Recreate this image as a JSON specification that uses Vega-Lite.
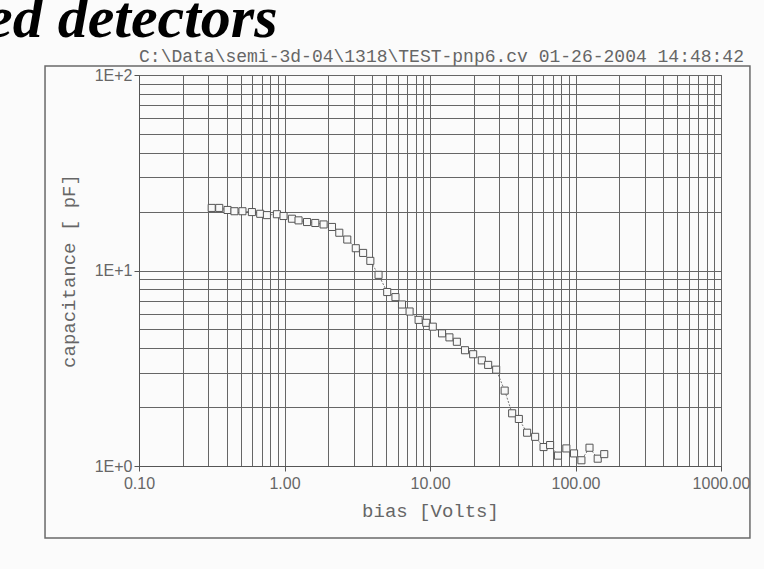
{
  "$schema": "https://vega.github.io/schema/vega-lite/v6.json",
  "width": 582,
  "height": 391,
  "autosize": {"type": "none"},
  "padding": {"left": 139, "top": 75, "right": 43, "bottom": 103},
  "background": "#fbfbfb",
  "title": {
    "text": "ed detectors",
    "anchor": "start",
    "frame": "group",
    "dx": -153,
    "dy": 75,
    "offset": 25,
    "baseline": "alphabetic",
    "font": "Liberation Serif",
    "fontSize": 60,
    "fontStyle": "italic",
    "fontWeight": "bold",
    "color": "#000000"
  },
  "config": {"view": {"stroke": "#555555", "strokeWidth": 1}},
  "data": {
    "values": [
      {"bias": 0.316, "capacitance": 20.9},
      {"bias": 0.356, "capacitance": 20.9},
      {"bias": 0.406, "capacitance": 20.4},
      {"bias": 0.453, "capacitance": 20.1},
      {"bias": 0.514, "capacitance": 20.1},
      {"bias": 0.597, "capacitance": 19.9},
      {"bias": 0.681, "capacitance": 19.5},
      {"bias": 0.757, "capacitance": 19.2},
      {"bias": 0.887, "capacitance": 19.4},
      {"bias": 0.985, "capacitance": 19.0},
      {"bias": 1.125, "capacitance": 18.4},
      {"bias": 1.249, "capacitance": 18.05},
      {"bias": 1.428, "capacitance": 17.7},
      {"bias": 1.628, "capacitance": 17.5},
      {"bias": 1.857, "capacitance": 17.2},
      {"bias": 2.12, "capacitance": 16.7},
      {"bias": 2.38, "capacitance": 15.6},
      {"bias": 2.7, "capacitance": 14.4},
      {"bias": 3.09, "capacitance": 13.0},
      {"bias": 3.47, "capacitance": 12.3},
      {"bias": 3.89, "capacitance": 11.2},
      {"bias": 4.43, "capacitance": 9.5},
      {"bias": 5.08, "capacitance": 7.76},
      {"bias": 5.79, "capacitance": 7.31},
      {"bias": 6.42, "capacitance": 6.7},
      {"bias": 7.24, "capacitance": 6.17},
      {"bias": 8.35, "capacitance": 5.59},
      {"bias": 9.42, "capacitance": 5.4},
      {"bias": 10.45, "capacitance": 5.16},
      {"bias": 12.1, "capacitance": 4.77},
      {"bias": 13.6, "capacitance": 4.55},
      {"bias": 15.3, "capacitance": 4.32},
      {"bias": 17.4, "capacitance": 3.91},
      {"bias": 19.8, "capacitance": 3.73},
      {"bias": 22.7, "capacitance": 3.47},
      {"bias": 25.1, "capacitance": 3.29},
      {"bias": 28.5, "capacitance": 3.11},
      {"bias": 32.6, "capacitance": 2.43},
      {"bias": 36.7, "capacitance": 1.86},
      {"bias": 40.8, "capacitance": 1.74},
      {"bias": 46.5, "capacitance": 1.48},
      {"bias": 52.8, "capacitance": 1.41},
      {"bias": 60.3, "capacitance": 1.25},
      {"bias": 66.9, "capacitance": 1.28},
      {"bias": 75.8, "capacitance": 1.13},
      {"bias": 86.5, "capacitance": 1.23},
      {"bias": 97.7, "capacitance": 1.16},
      {"bias": 109.8, "capacitance": 1.07},
      {"bias": 124.8, "capacitance": 1.24},
      {"bias": 142.1, "capacitance": 1.09},
      {"bias": 157.6, "capacitance": 1.15}
    ]
  },
  "layer": [
    {
      "data": {"values": [{"part": "page frame"}]},
      "mark": {"type": "rect", "fill": "transparent", "stroke": "#6a6a6a", "strokeWidth": 1.5, "clip": false},
      "encoding": {
        "x": {"datum": 0.0226, "type": "quantitative", "scale": {"type": "log", "domain": [0.1, 1000], "nice": false}, "axis": null},
        "x2": {"datum": 1581},
        "y": {"datum": 111.2, "type": "quantitative", "scale": {"type": "log", "domain": [1, 100], "nice": false}, "title": "capacitance [ pF]"},
        "y2": {"datum": 0.428}
      }
    },
    {
      "mark": {"type": "line", "stroke": "#777777", "strokeWidth": 1, "strokeDash": [2, 1.5]},
      "encoding": {
        "x": {
          "field": "bias",
          "type": "quantitative",
          "scale": {"type": "log", "domain": [0.1, 1000], "nice": false},
          "axis": {
            "orient": "bottom",
            "values": [0.1, 0.2, 0.3, 0.4, 0.5, 0.6, 0.7, 0.8, 0.9, 1, 2, 3, 4, 5, 6, 7, 8, 9, 10, 20, 30, 40, 50, 60, 70, 80, 90, 100, 200, 300, 400, 500, 600, 700, 800, 900, 1000],
            "labelExpr": "abs(log(datum.value)/LN10 - round(log(datum.value)/LN10)) < 0.001 ? format(datum.value, '.2f') : ''",
            "labelFont": "Liberation Sans",
            "labelFontSize": 16,
            "labelColor": "#666666",
            "labelPadding": 4,
            "labelFlush": false,
            "labelOverlap": false,
            "tickSize": 5,
            "tickColor": "#555555",
            "tickOpacity": {"condition": {"test": "abs(log(datum.value)/LN10 - round(log(datum.value)/LN10)) < 0.001", "value": 1}, "value": 0},
            "grid": true,
            "gridColor": "#666666",
            "gridOpacity": 1,
            "gridWidth": 1,
            "domainColor": "#555555",
            "title": "bias [Volts]",
            "titleFont": "Liberation Mono",
            "titleFontSize": 19,
            "titleFontWeight": "normal",
            "titleColor": "#666666",
            "titlePadding": 10
          }
        },
        "y": {
          "field": "capacitance",
          "type": "quantitative",
          "scale": {"type": "log", "domain": [1, 100], "nice": false},
          "title": "capacitance [ pF]",
          "axis": {
            "values": [1, 2, 3, 4, 5, 6, 7, 8, 9, 10, 20, 30, 40, 50, 60, 70, 80, 90, 100],
            "labelExpr": "abs(log(datum.value)/LN10 - round(log(datum.value)/LN10)) < 0.001 ? '1E+' + format(round(log(datum.value)/LN10), 'd') : ''",
            "labelFont": "Liberation Sans",
            "labelFontSize": 16,
            "labelColor": "#666666",
            "labelPadding": 2,
            "labelOverlap": false,
            "tickSize": 5,
            "tickColor": "#555555",
            "tickOpacity": {"condition": {"test": "abs(log(datum.value)/LN10 - round(log(datum.value)/LN10)) < 0.001", "value": 1}, "value": 0},
            "grid": true,
            "gridColor": "#666666",
            "gridOpacity": 1,
            "gridWidth": 1,
            "domainColor": "#555555",
            "titleFont": "Liberation Mono",
            "titleFontSize": 19,
            "titleFontWeight": "normal",
            "titleColor": "#666666",
            "titlePadding": 16
          }
        }
      }
    },
    {
      "mark": {"type": "point", "shape": "square", "size": 50, "filled": true, "fill": "#f8f8f8", "stroke": "#555555", "strokeWidth": 1, "opacity": 1},
      "encoding": {
        "x": {
          "field": "bias",
          "type": "quantitative",
          "scale": {"type": "log", "domain": [0.1, 1000], "nice": false},
          "axis": {
            "orient": "top",
            "labels": false,
            "ticks": false,
            "domain": false,
            "grid": false,
            "title": "C:\\Data\\semi-3d-04\\1318\\TEST-pnp6.cv 01-26-2004 14:48:42",
            "titleFont": "Liberation Mono",
            "titleFontSize": 18,
            "titleFontWeight": "normal",
            "titleColor": "#666666",
            "titleX": 302,
            "titleAlign": "center",
            "titleBaseline": "alphabetic",
            "titlePadding": 14
          }
        },
        "y": {
          "field": "capacitance",
          "type": "quantitative",
          "scale": {"type": "log", "domain": [1, 100], "nice": false},
          "title": "capacitance [ pF]"
        }
      }
    }
  ],
  "resolve": {"axis": {"x": "independent"}}
}
